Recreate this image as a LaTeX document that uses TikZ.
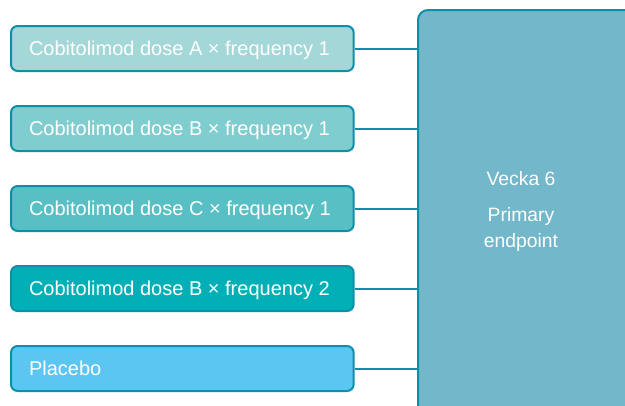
\documentclass[tikz,border=0pt]{standalone}
\usepackage{fontspec}
\setmainfont{Liberation Sans}
\definecolor{edge}{HTML}{0E8FA8}
\definecolor{fa}{HTML}{A3D7D8}
\definecolor{fb}{HTML}{80CDD0}
\definecolor{fc}{HTML}{58C0C5}
\definecolor{fd}{HTML}{00B0B6}
\definecolor{fe}{HTML}{5CC6F2}
\definecolor{fbig}{HTML}{72B7CA}
\begin{document}
\begin{tikzpicture}[x=0.75pt,y=-0.75pt,
  armbox/.style={draw=edge,line width=1.5pt,rounded corners=5pt,minimum width=257pt,minimum height=33.75pt,text=white,font=\fontsize{15}{17}\selectfont,anchor=west,inner sep=0pt,text height=13.2pt,text depth=3pt},
  link/.style={draw=edge,line width=1.5pt}]
\useasboundingbox (0,0) rectangle (625,405);
\clip (0,0) rectangle (625,405);
\node[draw=edge,line width=1.5pt,rounded corners=7.5pt,fill=fbig,minimum width=180pt,minimum height=320pt,anchor=north west,inner sep=0pt] (big) at (417,9) {};
\node[text=white,align=center,font=\fontsize{14.5}{19.5}\selectfont] (lbl) at (521,211) {Vecka 6\\[7.5pt]Primary\\endpoint};
\node[armbox,fill=fa] (a) at (10,48.5) {\makebox[257pt][l]{\hspace*{13.5pt}Cobitolimod dose A × frequency 1}};
\node[armbox,fill=fb] (b) at (10,128.5) {\makebox[257pt][l]{\hspace*{13.5pt}Cobitolimod dose B × frequency 1}};
\node[armbox,fill=fc] (c) at (10,208.5) {\makebox[257pt][l]{\hspace*{13.5pt}Cobitolimod dose C × frequency 1}};
\node[armbox,fill=fd] (d) at (10,288.5) {\makebox[257pt][l]{\hspace*{13.5pt}Cobitolimod dose B × frequency 2}};
\node[armbox,fill=fe] (e) at (10,368.5) {\makebox[257pt][l]{\hspace*{13.5pt}Placebo}};
\foreach \n in {a,b,c,d,e}{\draw[link] (\n.east) -- (\n.east -| big.west);}
\end{tikzpicture}
\end{document}
